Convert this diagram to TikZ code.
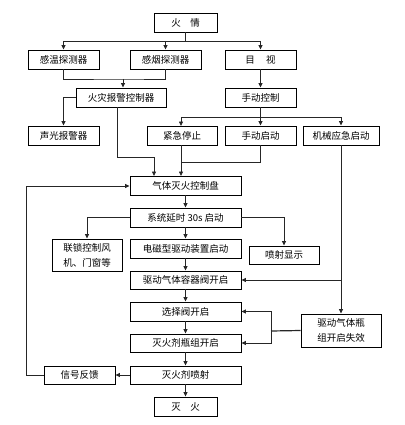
\documentclass[tikz,border=0pt]{standalone}
\usepackage{fontspec}
\setmainfont{Noto Sans CJK SC}
\usetikzlibrary{arrows.meta}
\begin{document}
\begin{tikzpicture}[x=1pt,y=-1pt,
  box/.style={draw=black,line width=0.9pt,inner sep=0pt,minimum height=19pt,align=center,
    font=\fontsize{9.5}{15}\selectfont},
  conn/.style={draw=black!85,line width=0.8pt},
  arr/.style={conn,-{Triangle[length=4.5pt,width=4pt]}}]
\useasboundingbox (0,0) rectangle (404,425);
% nodes
\node[box,minimum width=63pt] (huo) at (185.5,22.5) {火\hspace{1em}情};
\node[box,minimum width=71pt] (ganwen) at (63.5,59.5) {感温探测器};
\node[box,minimum width=71pt] (ganyan) at (165.5,59.5) {感烟探测器};
\node[box,minimum width=71pt] (mushi) at (260.5,59.5) {目\hspace{1.2em}视};
\node[box,minimum width=90pt] (huozai) at (121,97.5) {火灾报警控制器};
\node[box,minimum width=71pt] (sdkz) at (260.5,97.5) {手动控制};
\node[box,minimum width=71pt] (sg) at (63.5,135.5) {声光报警器};
\node[box,minimum width=70pt] (jinji) at (182,135.5) {紧急停止};
\node[box,minimum width=71pt] (sdqd) at (260.5,135.5) {手动启动};
\node[box,minimum width=76pt] (jixie) at (341,135.5) {机械应急启动};
\node[box,minimum width=111pt] (qiti) at (185.5,185.5) {气体灭火控制盘};
\node[box,minimum width=111pt] (xitong) at (185.5,217.5) {系统延时 30s 启动};
\node[box,minimum width=70pt,minimum height=32pt] (liansuo) at (87,255) {联锁控制风\\机、门窗等};
\node[box,minimum width=111pt] (dianci) at (185.5,248.5) {电磁型驱动装置启动};
\node[box,minimum width=70pt,minimum height=18pt] (pxs) at (284,255) {喷射显示};
\node[box,minimum width=111pt,minimum height=18pt] (qudong) at (185.5,280) {驱动气体容器阀开启};
\node[box,minimum width=111pt] (xuanze) at (185.5,311.5) {选择阀开启};
\node[box,minimum width=111pt,minimum height=18pt] (pingzu) at (185.5,343) {灭火剂瓶组开启};
\node[box,minimum width=111pt,minimum height=18pt] (penshe) at (185.5,375) {灭火剂喷射};
\node[box,minimum width=63pt] (miehuo) at (185.5,406.5) {灭\hspace{1em}火};
\node[box,minimum width=71pt,minimum height=18pt] (xinhao) at (79.5,375) {信号反馈};
\node[box,minimum width=80pt,minimum height=33pt] (shixiao) at (341,330.5) {驱动气体瓶\\组开启失效};
% coordinates
\coordinate (b1) at (185.5,41);
\coordinate (b2) at (123,79);
\coordinate (b3) at (260.5,117);
\coordinate (b4) at (181,162);
\coordinate (b5) at (117,157);
\coordinate (b6) at (341,280);
\coordinate (b7) at (271,331);
% connectors
\draw[conn] (huo.south) -- (b1);
\draw[conn] (ganwen.north |- b1) -- (mushi.north |- b1);
\draw[arr] (ganwen.north |- b1) -- (ganwen.north);
\draw[arr] (ganyan.north |- b1) -- (ganyan.north);
\draw[arr] (mushi.north |- b1) -- (mushi.north);
\draw[conn] (ganwen.south) |- (b2) -| (ganyan.south);
\draw[arr] (b2) -- (b2 |- huozai.north);
\draw[arr] (mushi) -- (sdkz);
\draw[arr] (huozai.west) -| (sg.north);
\draw[arr] (b5 |- huozai.south) -- (b5) -| (154,176);
\draw[conn] (sdkz.south) -- (b3);
\draw[conn] (jinji.north |- b3) -- (341,117);
\draw[arr] (181,117) -- (181,126);
\draw[arr] (b3) -- (sdqd.north);
\draw[arr] (341,117) -- (jixie.north);
\draw[arr] (181,145) -- (181,176);
\draw[conn] (sdqd.south) |- (b4);
\draw[arr] (jixie.south) -- (shixiao.north);
\draw[arr] (b6) -- (qudong.east);
\draw[arr] (xinhao.west) -- (26,375) -- (26,186) -- (qiti.west |- 0,186);
\draw[arr] (qiti) -- (xitong);
\draw[arr] (xitong) -- (dianci);
\draw[arr] (dianci) -- (qudong);
\draw[arr] (qudong) -- (xuanze);
\draw[arr] (xuanze) -- (pingzu);
\draw[arr] (pingzu) -- (penshe);
\draw[arr] (penshe) -- (miehuo);
\draw[arr] (xitong.west) -| (liansuo.north);
\draw[arr] (xitong.east) -| (pxs.north);
\draw[arr] (penshe.west) -- (xinhao.east);
\draw[conn,line width=1.2pt] (shixiao.west) -- (b7);
\draw[arr] (b7) |- (xuanze.east);
\draw[arr] (b7) |- (pingzu.east);
\end{tikzpicture}
\end{document}
